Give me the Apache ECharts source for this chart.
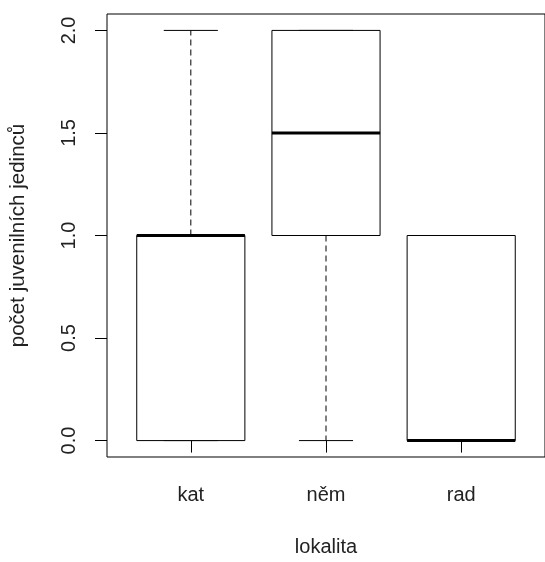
<!DOCTYPE html>
<html>
<head>
<meta charset="utf-8">
<script src="https://cdn.jsdelivr.net/npm/echarts@6/dist/echarts.min.js"></script>
<style>
  html, body { margin: 0; padding: 0; background: #fff; }
  #root { width: 545px; height: 562px; }
</style>
</head>
<body>
<div id="root"></div>
<script>
// lokalita -> pocet juvenilnich jedincu (five-number summaries)
var categories = ['kat', 'něm', 'rad'];
var mins    = [0, 0, 0];
var q1s     = [0, 1, 0];
var medians = [1, 1.5, 0];
var q3s     = [1, 2, 1];
var maxes   = [2, 2, 1];
var yTicks  = [0, 0.5, 1, 1.5, 2];

(function () {
  const chart = echarts.init(document.getElementById('root'));
  const font = '"Liberation Sans", Arial, sans-serif';

  const data = categories.map((c, i) => [i + 1, mins[i], q1s[i], medians[i], q3s[i], maxes[i]]);

  const renderItem = (params, api) => {
    const x = api.value(0);
    const lo = api.value(1), q1 = api.value(2), med = api.value(3), q3 = api.value(4), hi = api.value(5);
    const halfBox = 0.4, halfCap = 0.2;
    const tl = api.coord([x - halfBox, q3]);
    const br = api.coord([x + halfBox, q1]);
    const line = (a, b, style) => ({
      type: 'line',
      shape: { x1: a[0], y1: a[1], x2: b[0], y2: b[1] },
      style: Object.assign({ stroke: '#000', lineWidth: 1 }, style)
    });
    const children = [];
    // whiskers (dashed) and staples
    if (hi > q3) {
      children.push(line(api.coord([x, q3]), api.coord([x, hi]), { lineDash: [6, 4] }));
    }
    if (lo < q1) {
      children.push(line(api.coord([x, q1]), api.coord([x, lo]), { lineDash: [6, 4] }));
    }
    children.push(line(api.coord([x - halfCap, hi]), api.coord([x + halfCap, hi]), {}));
    children.push(line(api.coord([x - halfCap, lo]), api.coord([x + halfCap, lo]), {}));
    // box
    children.push({
      type: 'rect',
      shape: { x: tl[0], y: tl[1], width: br[0] - tl[0], height: br[1] - tl[1] },
      style: { fill: '#fff', stroke: '#000', lineWidth: 1 }
    });
    // median
    children.push(line(api.coord([x - halfBox, med]), api.coord([x + halfBox, med]), { lineWidth: 3 }));
    return { type: 'group', children: children };
  };

  const option = {
    animation: false,
    backgroundColor: '#fff',
    grid: {
      left: 106, top: 14, width: 448, height: 449,
      show: true, borderColor: '#000', borderWidth: 1, backgroundColor: 'transparent'
    },
    xAxis: {
      type: 'value',
      min: 0.38, max: 3.62,
      name: 'lokalita',
      nameLocation: 'middle',
      nameGap: 80,
      nameTextStyle: { fontFamily: font, fontSize: 20, color: '#222' },
      axisLine: { show: false },
      axisTick: { show: true, length: 12, lineStyle: { color: '#000' }, customValues: [1, 2, 3] },
      axisLabel: {
        customValues: [1, 2, 3],
        formatter: v => categories[Math.round(v) - 1] || '',
        margin: 28, fontFamily: font, fontSize: 20, color: '#222'
      },
      splitLine: { show: false }
    },
    yAxis: {
      type: 'value',
      min: -0.08, max: 2.08,
      name: 'počet juvenilních jedinců',
      nameLocation: 'middle',
      nameGap: 78,
      nameRotate: 90,
      nameTextStyle: { fontFamily: font, fontSize: 20.5, color: '#222' },
      axisLine: { show: false },
      axisTick: { show: true, length: 12, lineStyle: { color: '#000' }, customValues: yTicks },
      axisLabel: {
        customValues: yTicks,
        formatter: v => v.toFixed(1),
        rotate: 90,
        margin: 28, fontFamily: font, fontSize: 20, color: '#222'
      },
      splitLine: { show: false }
    },
    series: [{
      type: 'custom',
      renderItem: renderItem,
      encode: { x: 0, y: [1, 2, 3, 4, 5] },
      data: data,
      clip: false
    }]
  };

  chart.setOption(option);
})();
</script>
</body>
</html>
